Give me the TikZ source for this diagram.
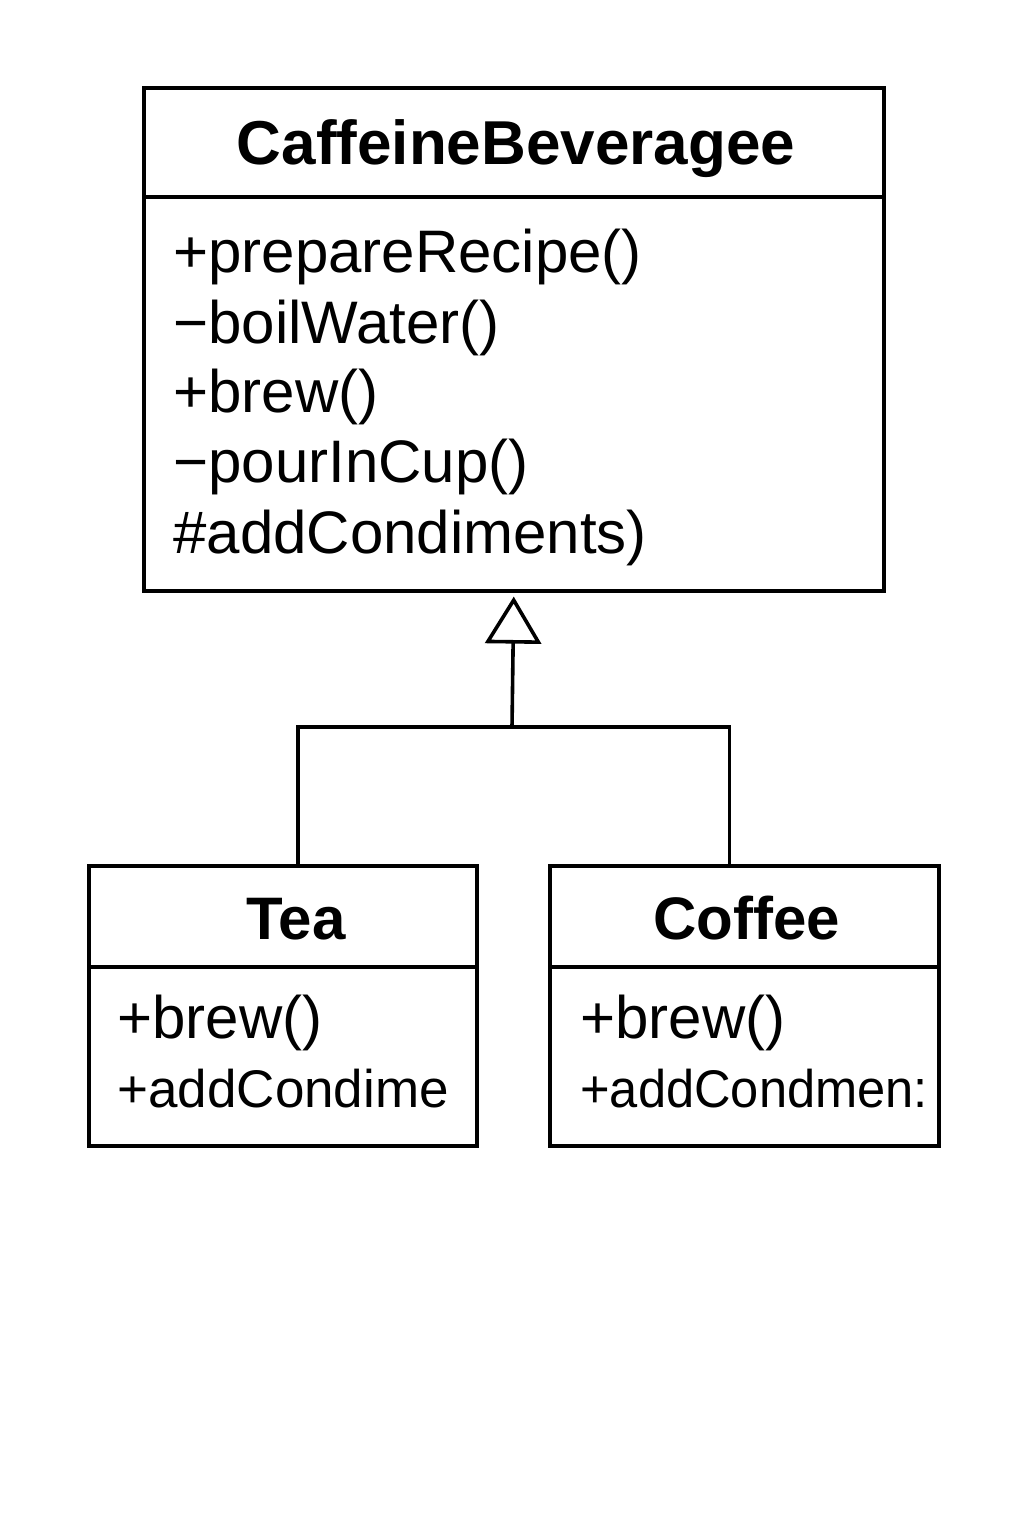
\documentclass[tikz,border=0pt]{standalone}
\usepackage{fontspec}
\setmainfont{Liberation Sans}
\usetikzlibrary{arrows.meta}
\begin{document}
\begin{tikzpicture}[x=0.5pt,y=-0.5pt,
  box/.style={draw, line width=1.8pt, inner sep=0pt, anchor=north west},
  sep/.style={line width=1.8pt},
  ttl/.style={inner sep=0pt, anchor=base, font=\bfseries\fontsize{31}{36}\selectfont},
  subttl/.style={inner sep=0pt, anchor=base, font=\bfseries\fontsize{30}{35}\selectfont},
  meth/.style={inner sep=0pt, anchor=base west, font=\fontsize{30}{35}\selectfont},
  smeth/.style={inner sep=0pt, anchor=base west, font=\fontsize{26.5}{31}\selectfont},
  rel/.style={line width=1.8pt},
  line join=miter]
\useasboundingbox[fill=white] (0,0) rectangle (1024,1536);
% CaffeineBeverage
\node[box, minimum width=370pt, minimum height=251.5pt] (cb) at (142,86) {};
\draw[sep] (142,197) -- (882,197);
\node[ttl] (cbt) at (516,164) {CaffeineBeveragee};
\node[meth] (m1) at (173,272) {+prepareRecipe()};
\node[meth] (m2) at (173,343) {−boilWater()};
\node[meth] (m3) at (173,412) {+brew()};
\node[meth] (m4) at (173,482) {−pourInCup()};
\node[meth] (m5) at (173,553) {\#addCondiments)};
% Tea
\node[box, minimum width=194pt, minimum height=140pt] (tea) at (87,864) {};
\draw[sep] (87,967) -- (475,967);
\node[subttl] (teat) at (296,939) {Tea};
\node[meth] (t1) at (117,1038) {+brew()};
\node[smeth] (t2) at (117,1107) {+addCondime};
% Coffee
\node[box, minimum width=194.5pt, minimum height=140pt] (cof) at (548,864) {};
\draw[sep] (548,967) -- (937,967);
\node[subttl] (coft) at (747,939) {Coffee};
\node[meth] (c1) at (580,1038) {+brew()};
\begin{scope}
\clip (550,970) rectangle (935,1142);
\node[smeth, xscale=0.955] (c2) at (580,1107) {+addCondmen:};
\end{scope}
% inheritance
\coordinate (jn) at (512,727);
\draw[rel] ([xshift=7.5pt]tea.north) |- (jn) -| ([xshift=-7.5pt]cof.north);
\draw[rel, shorten >=2pt, -{Triangle[open, length=23.5pt, width=28pt, line width=1.8pt]}] (jn) -- (cb.south);
\end{tikzpicture}
\end{document}
